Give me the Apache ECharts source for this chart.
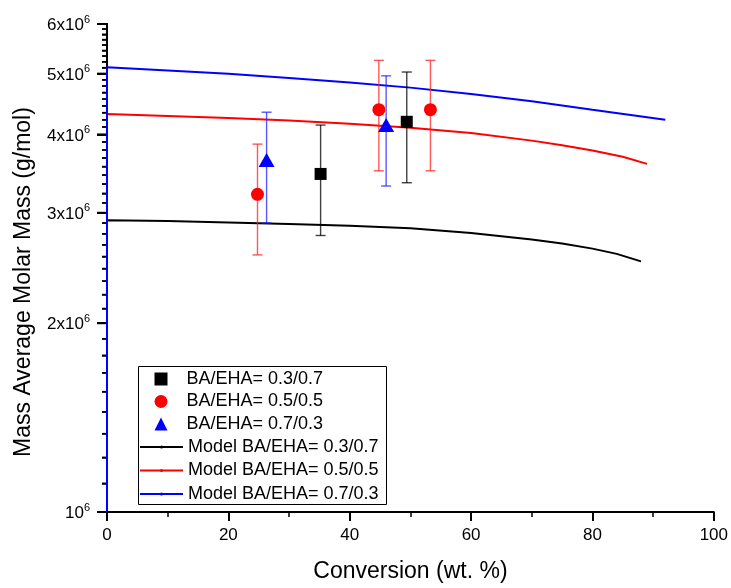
<!DOCTYPE html>
<html><head><meta charset="utf-8">
<script src="https://cdn.jsdelivr.net/npm/echarts@6/dist/echarts.min.js"></script>
<style>html,body{margin:0;padding:0;background:#fff}#c{width:731px;height:588px}</style>
</head><body><div id="c"></div>
<script>
// Experimental data (conversion wt.%, Mw g/mol, error bar low/high)
const s1Conv = [35.2, 49.4];
const s1Mw   = [3.46e6, 4.19e6];
const s1Lo   = [2.76e6, 3.35e6];
const s1Hi   = [4.14e6, 5.03e6];

const s2Conv = [24.8, 44.8, 53.3];
const s2Mw   = [3.21e6, 4.38e6, 4.38e6];
const s2Lo   = [2.57e6, 3.50e6, 3.50e6];
const s2Hi   = [3.86e6, 5.25e6, 5.25e6];

const s3Conv = [26.3, 46.0];
const s3Mw   = [3.64e6, 4.14e6];
const s3Lo   = [2.89e6, 3.31e6];
const s3Hi   = [4.34e6, 4.96e6];

// Model curves
const m1Conv = [0, 0, 10, 20, 30, 40, 50, 60, 70, 75, 80, 84, 88];
const m1Mw   = [1e6, 2.92e6, 2.91e6, 2.895e6, 2.88e6, 2.86e6, 2.835e6, 2.785e6, 2.72e6, 2.68e6, 2.63e6, 2.58e6, 2.51e6];
const m2Conv = [0, 0, 10, 20, 30, 40, 50, 60, 70, 75, 80, 85, 89];
const m2Mw   = [1e6, 4.31e6, 4.28e6, 4.25e6, 4.21e6, 4.16e6, 4.10e6, 4.02e6, 3.91e6, 3.845e6, 3.77e6, 3.685e6, 3.59e6];
const m3Conv = [0, 0, 10, 20, 30, 40, 50, 60, 70, 80, 92];
const m3Mw   = [1e6, 5.12e6, 5.06e6, 5.00e6, 4.92e6, 4.84e6, 4.75e6, 4.64e6, 4.52e6, 4.38e6, 4.22e6];

// Tick values
const yMajorTicks = [1e6, 2e6, 3e6, 4e6, 5e6, 6e6];
const yMinorTicks = [];
for (let i = 0; i < yMajorTicks.length - 1; i++) {
  for (let k = 1; k <= 8; k++) yMinorTicks.push(yMajorTicks[i] + k * (yMajorTicks[i + 1] - yMajorTicks[i]) / 9);
}
const xTickLabels = [0, 20, 40, 60, 80, 100];

const names = ['BA/EHA= 0.3/0.7', 'BA/EHA= 0.5/0.5', 'BA/EHA= 0.7/0.3',
  'Model BA/EHA= 0.3/0.7', 'Model BA/EHA= 0.5/0.5', 'Model BA/EHA= 0.7/0.3'];

const zip = (a, b) => a.map((v, i) => [v, b[i]]);
const zip3 = (a, b, c) => a.map((v, i) => [v, b[i], c[i]]);
const YMIN = yMajorTicks[0], YMAX = yMajorTicks[yMajorTicks.length - 1];

function errSeries(conv, lo, hi, color) {
  return {
    type: 'custom',
    silent: true,
    z: 3,
    data: zip3(conv, lo, hi),
    renderItem: function (params, api) {
      const x = api.value(0);
      const p1 = api.coord([x, api.value(1)]);
      const p2 = api.coord([x, api.value(2)]);
      const w = 5;
      const st = { stroke: color, lineWidth: 1.4, opacity: 0.75 };
      return {
        type: 'group',
        children: [
          { type: 'line', shape: { x1: p1[0], y1: p1[1], x2: p2[0], y2: p2[1] }, style: st },
          { type: 'line', shape: { x1: p1[0] - w, y1: p1[1], x2: p1[0] + w, y2: p1[1] }, style: st },
          { type: 'line', shape: { x1: p2[0] - w, y1: p2[1], x2: p2[0] + w, y2: p2[1] }, style: st }
        ]
      };
    }
  };
}

// y-axis tick marks positioned through the log axis scale
function tickSeries(name, values, len, width) {
  return {
    name: name, type: 'custom', clip: false,
    data: values.map(v => [0, v]),
    renderItem: function (params, api) {
      const p = api.coord([0, api.value(1)]);
      return { type: 'line', shape: { x1: p[0] - len, y1: p[1], x2: p[0], y2: p[1] },
        style: { stroke: '#000', lineWidth: width } };
    }
  };
}

// tick-only helper axis in log10 space (same extent as the log axis)
function tickAxis(values, len, width) {
  return {
    type: 'value', min: Math.log10(YMIN), max: Math.log10(YMAX), position: 'left',
    axisLine: { show: true, lineStyle: { color: '#000', width: 2 } },
    axisTick: { show: true, length: len, customValues: values.map(Math.log10), lineStyle: { color: '#000', width: width } },
    axisLabel: { show: false },
    splitLine: { show: false }
  };
}

const FONT = 'Liberation Sans, Arial, sans-serif';
const chart = echarts.init(document.getElementById('c'));
chart.setOption({
  animation: false,
  textStyle: { fontFamily: FONT },
  grid: { left: 107, right: 16, top: 24, bottom: 70 },
  xAxis: {
    type: 'value', min: 0, max: 100, interval: 20,
    name: 'Conversion (wt. %)', nameLocation: 'middle', nameGap: 48,
    nameTextStyle: { fontSize: 23, color: '#000', fontFamily: FONT },
    axisLine: { show: true, lineStyle: { color: '#000', width: 2 } },
    axisTick: { show: true, length: 9, lineStyle: { color: '#000', width: 2 } },
    minorTick: { show: true, splitNumber: 2, length: 5, lineStyle: { color: '#000', width: 1.5 } },
    axisLabel: { fontSize: 17, color: '#000', margin: 15, fontFamily: FONT,
      customValues: xTickLabels },
    splitLine: { show: false }
  },
  yAxis: [{
    type: 'log', min: YMIN, max: YMAX,
    name: 'Mass Average Molar Mass (g/mol)', nameLocation: 'middle', nameGap: 72, nameRotate: 90,
    nameTextStyle: { fontSize: 23, color: '#000', fontFamily: FONT, padding: [0, 28, 0, 0] },
    axisLine: { show: true, lineStyle: { color: '#000', width: 2 } },
    axisTick: { show: true, length: 10, customValues: yMajorTicks, lineStyle: { color: '#000', width: 2 } },
    axisLabel: {
      customValues: yMajorTicks, margin: 17, color: '#000',
      formatter: function (v) {
        const m = Math.round(v / 1e6);
        return m === 1 ? '{b|10}{s|6}' : '{b|' + m + 'x10}{s|6}';
      },
      rich: {
        b: { fontSize: 17, color: '#000', fontFamily: FONT, lineHeight: 20, verticalAlign: 'bottom' },
        s: { fontSize: 11, color: '#000', fontFamily: FONT, lineHeight: 20, verticalAlign: 'top' }
      }
    },
    splitLine: { show: false }
  }, tickAxis(yMinorTicks, 5, 1.5)],
  legend: [{
    orient: 'vertical', left: 154.5, top: 370, padding: 0,
    itemWidth: 13, itemHeight: 13, itemGap: 4.5,
    textStyle: { fontSize: 18, color: '#000', fontFamily: FONT, lineHeight: 16, padding: [0, 0, 0, 14] },
    data: names.slice(0, 3)
  }, {
    orient: 'vertical', left: 139, top: 438, padding: 0,
    itemWidth: 43, itemHeight: 4, itemGap: 5.5,
    textStyle: { fontSize: 18, color: '#000', fontFamily: FONT, lineHeight: 16 },
    data: names.slice(3)
  }],
  graphic: [{
    type: 'rect', left: 136, top: 364, silent: true,
    shape: { width: 248, height: 138 },
    style: { fill: 'none', stroke: '#000', lineWidth: 1 }
  }],
  series: [
    tickSeries('y major ticks', yMajorTicks, 10, 2),
    tickSeries('y minor ticks', yMinorTicks, 5, 1.5),
    { name: names[3], type: 'line', data: zip(m1Conv, m1Mw), showSymbol: false, symbol: 'circle', symbolSize: 3,
      lineStyle: { color: '#000', width: 2 }, itemStyle: { color: '#000' }, z: 2 },
    { name: names[4], type: 'line', data: zip(m2Conv, m2Mw), showSymbol: false, symbol: 'circle', symbolSize: 3,
      lineStyle: { color: '#ff0000', width: 2 }, itemStyle: { color: '#ff0000' }, z: 2 },
    { name: names[5], type: 'line', data: zip(m3Conv, m3Mw), showSymbol: false, symbol: 'circle', symbolSize: 3,
      lineStyle: { color: '#0000ff', width: 2 }, itemStyle: { color: '#0000ff' }, z: 2 },
    errSeries(s1Conv, s1Lo, s1Hi, '#000'),
    errSeries(s2Conv, s2Lo, s2Hi, '#ff2020'),
    errSeries(s3Conv, s3Lo, s3Hi, '#2020ff'),
    { name: names[0], type: 'scatter', data: zip(s1Conv, s1Mw), symbol: 'rect', symbolSize: 12,
      itemStyle: { color: '#000', opacity: 1 }, z: 4 },
    { name: names[1], type: 'scatter', data: zip(s2Conv, s2Mw), symbol: 'circle', symbolSize: 13,
      itemStyle: { color: '#ff0000', opacity: 1 }, z: 4 },
    { name: names[2], type: 'scatter', data: zip(s3Conv, s3Mw), symbol: 'triangle', symbolSize: [16, 14],
      itemStyle: { color: '#0000ff', opacity: 1 }, z: 4 }
  ]
});
</script></body></html>
